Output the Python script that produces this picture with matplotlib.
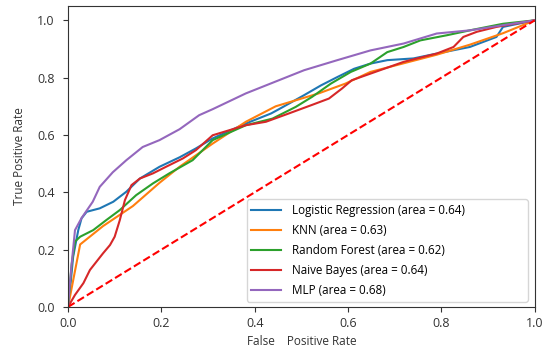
import matplotlib
matplotlib.use("Agg")
import matplotlib.pyplot as plt

# ROC curve points (FPR, TPR)
lr_fpr = [0.0, 0.006, 0.011, 0.022, 0.029, 0.040, 0.068, 0.097, 0.125, 0.154, 0.196, 0.239, 0.274,
          0.310, 0.381, 0.435, 0.452, 0.506, 0.542, 0.577, 0.613, 0.648, 0.684, 0.740, 0.790,
          0.861, 0.918, 0.932, 1.0]
lr_tpr = [0.0, 0.09, 0.175, 0.268, 0.309, 0.332, 0.344, 0.367, 0.402, 0.448, 0.489, 0.522, 0.553,
          0.588, 0.640, 0.675, 0.690, 0.739, 0.773, 0.802, 0.831, 0.849, 0.861, 0.867, 0.884,
          0.907, 0.942, 0.977, 1.0]

knn_fpr = [0.0, 0.026, 0.075, 0.139, 0.196, 0.239, 0.310, 0.381, 0.445, 0.488, 0.537, 0.594,
           0.648, 0.719, 0.790, 0.861, 0.932, 1.0]
knn_tpr = [0.0, 0.218, 0.282, 0.352, 0.433, 0.489, 0.570, 0.646, 0.700, 0.721, 0.745, 0.779,
           0.820, 0.850, 0.880, 0.915, 0.955, 1.0]

rf_fpr = [0.0, 0.008, 0.015, 0.026, 0.054, 0.082, 0.111, 0.146, 0.182, 0.217, 0.267, 0.310,
          0.381, 0.438, 0.488, 0.523, 0.563, 0.606, 0.648, 0.684, 0.719, 0.755, 0.812, 0.861,
          0.932, 1.0]
rf_tpr = [0.0, 0.15, 0.228, 0.245, 0.268, 0.303, 0.338, 0.390, 0.431, 0.466, 0.512, 0.582,
          0.634, 0.657, 0.698, 0.733, 0.779, 0.820, 0.849, 0.889, 0.907, 0.930, 0.948, 0.965,
          0.988, 1.0]

nb_fpr = [0.0, 0.015, 0.033, 0.047, 0.061, 0.075, 0.090, 0.100, 0.111, 0.122, 0.136, 0.154,
          0.182, 0.210, 0.246, 0.274, 0.310, 0.381, 0.424, 0.473, 0.523, 0.559, 0.587, 0.608,
          0.648, 0.719, 0.748, 0.790, 0.826, 0.847, 0.876, 0.918, 1.0]
nb_tpr = [0.0, 0.042, 0.083, 0.129, 0.158, 0.187, 0.216, 0.245, 0.303, 0.373, 0.425, 0.448,
          0.466, 0.489, 0.518, 0.547, 0.599, 0.634, 0.646, 0.675, 0.705, 0.727, 0.762, 0.791,
          0.814, 0.855, 0.867, 0.884, 0.907, 0.942, 0.960, 0.977, 1.0]

mlp_fpr = [0.0, 0.004, 0.008, 0.015, 0.029, 0.053, 0.068, 0.096, 0.125, 0.160, 0.196, 0.239,
           0.281, 0.310, 0.381, 0.435, 0.506, 0.577, 0.648, 0.719, 0.790, 0.861, 0.932, 1.0]
mlp_tpr = [0.0, 0.08, 0.153, 0.268, 0.310, 0.367, 0.419, 0.470, 0.512, 0.558, 0.582, 0.620,
           0.669, 0.690, 0.745, 0.780, 0.826, 0.861, 0.895, 0.919, 0.954, 0.965, 0.983, 1.0]

names = ["Logistic Regression", "KNN", "Random Forest", "Naive Bayes", "MLP"]
aucs = [0.64, 0.63, 0.62, 0.64, 0.68]
colors = ["#1f77b4", "#ff7f0e", "#2ca02c", "#d62728", "#9467bd"]

plt.rcParams["font.family"] = ["Open Sans", "DejaVu Sans"]

fig = plt.figure(figsize=(5.44, 3.52), dpi=100)
ax = fig.add_axes([0.125, 0.128, 0.858, 0.855])

curves = [(lr_fpr, lr_tpr), (knn_fpr, knn_tpr), (rf_fpr, rf_tpr), (nb_fpr, nb_tpr), (mlp_fpr, mlp_tpr)]
for (fpr, tpr), name, auc, c in zip(curves, names, aucs, colors):
    ax.plot(fpr, tpr, color=c, lw=1.5, label=f"{name} (area = {auc:.2f})")
ax.plot([0, 1], [0, 1], "r--", lw=1.5)

ax.set_xlim(0, 1)
ax.set_ylim(0, 1.05)
ax.set_xticks([0, 0.2, 0.4, 0.6, 0.8, 1.0])
ax.set_yticks([0, 0.2, 0.4, 0.6, 0.8, 1.0])
ax.tick_params(labelsize=9, colors="#333333", length=3.5)
ax.tick_params(axis="y", pad=6)
for s in ax.spines.values():
    s.set_color("#333333")
ax.set_xlabel("False    Positive Rate", fontsize=8.5, color="#333333")
ax.set_ylabel("True Positive Rate", fontsize=8.5, color="#333333", labelpad=8)
leg = ax.legend(loc="lower left", bbox_to_anchor=(0.383, 0.017, 0.602, 0.35), mode="expand",
                borderaxespad=0, fontsize=8.4, handlelength=2.5, handletextpad=0.95,
                borderpad=0.4, labelspacing=0.6)
leg.get_frame().set_edgecolor("#cccccc")

fig.savefig("out.png", dpi=100)
